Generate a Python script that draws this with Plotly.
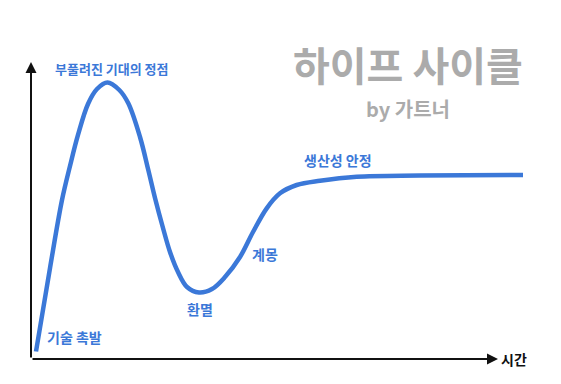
import plotly.graph_objects as go

# Hype cycle curve (time, expectation) in arbitrary units
time = [1.0, 3.8, 6.2, 7.8, 9.4, 11.4, 13.2, 15.3, 17.66, 19.46, 21.8, 23.46, 24.8, 26.4, 27.8,
        29.4, 31.2, 33.6, 36.2, 38.8, 41.8, 44.4, 47.14, 49.8, 53.14, 57.8, 65.14, 77.8, 98.4]
expectation = [2.5, 30.33, 53.0, 64.33, 74.67, 85.0, 90.0, 92.17, 89.67, 85.23, 74.0, 63.0, 53.67, 43.67, 35.67,
               29.0, 24.0, 22.17, 23.33, 27.33, 34.0, 42.33, 50.23, 55.23, 58.0, 59.43, 60.77, 61.17, 61.33]

stage_labels = ["기술 촉발", "부풀려진 기대의 정점", "환멸", "계몽", "생산성 안정"]
stage_x = [8.6, 16.2, 33.8, 46.8, 61.4]
stage_y = [7.3, 96.7, 16.7, 35.0, 66.3]
stage_size = [14, 13, 14, 14, 14]

title_text = "하이프 사이클"
subtitle_text = "by 가트너"
y_label = "기대"
x_label = "시간"

BLUE = "#3b78d8"
GRAY = "#ababab"
FONT = "Noto Sans CJK KR"

fig = go.Figure()
fig.add_trace(go.Scatter(
    x=time, y=expectation, mode="lines",
    line=dict(color=BLUE, width=4.5, shape="spline", smoothing=1.0),
    hoverinfo="skip", showlegend=False,
))

annotations = []
# axes arrows
annotations.append(dict(x=0, y=99, ax=0, ay=0, xref="x", yref="y", axref="x", ayref="y",
                        showarrow=True, arrowhead=2, arrowsize=1.1, arrowwidth=2, arrowcolor="#111", text=""))
annotations.append(dict(x=93.4, y=0, ax=0, ay=0, xref="x", yref="y", axref="x", ayref="y",
                        showarrow=True, arrowhead=2, arrowsize=1.1, arrowwidth=2, arrowcolor="#111", text=""))

for t, xx, yy, sz in zip(stage_labels, stage_x, stage_y, stage_size):
    annotations.append(dict(x=xx, y=yy, xref="x", yref="y", text="<b>%s</b>" % t, showarrow=False,
                            font=dict(family=FONT, size=sz, color=BLUE), xanchor="center", yanchor="middle"))

annotations.append(dict(x=75.4, y=98.17, xref="x", yref="y", text="<b>%s</b>" % title_text, showarrow=False,
                        font=dict(family=FONT, size=40, color=GRAY), xanchor="center", yanchor="middle"))
annotations.append(dict(x=75.4, y=83.5, xref="x", yref="y", text="<b>%s</b>" % subtitle_text, showarrow=False,
                        font=dict(family=FONT, size=20, color=GRAY), xanchor="center", yanchor="middle"))
annotations.append(dict(x=-0.2, y=102, xref="x", yref="y", text="<b>%s</b>" % y_label, showarrow=False,
                        font=dict(family=FONT, size=14, color="#111"), xanchor="center", yanchor="middle"))
annotations.append(dict(x=96.6, y=0, xref="x", yref="y", text="<b>%s</b>" % x_label, showarrow=False,
                        font=dict(family=FONT, size=14, color="#111"), xanchor="center", yanchor="middle"))

# page body has an 8px default margin, so the figure is shifted accordingly
fig.update_layout(
    width=553, height=376,
    margin=dict(l=23, r=30, t=51, b=25),
    paper_bgcolor="white", plot_bgcolor="white",
    xaxis=dict(range=[0, 100], visible=False, fixedrange=True),
    yaxis=dict(range=[0, 100], visible=False, fixedrange=True),
    annotations=annotations,
    showlegend=False,
)

fig.write_html("out.html")
